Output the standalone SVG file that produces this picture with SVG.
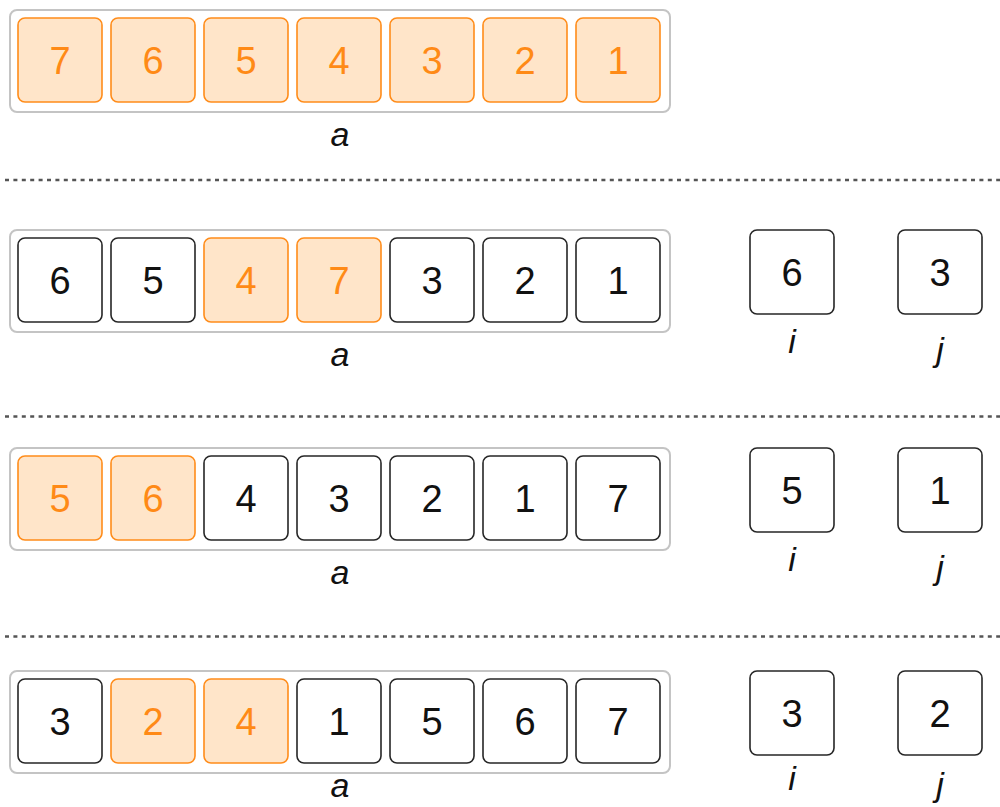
<svg xmlns="http://www.w3.org/2000/svg" width="1000" height="807" viewBox="0 0 1000 807">
<style>
.bg{fill:#ffffff}
.arr{fill:#ffffff;stroke:#c4c4c4;stroke-width:2}
.c{fill:#ffffff;stroke:#262626;stroke-width:1.6}
.h{fill:#ffe5c9;stroke:#ff8c1a;stroke-width:1.6}
.t{font-family:"Liberation Sans",Arial,sans-serif;font-size:38px;text-anchor:middle;fill:#111111}
.th{fill:#ff8a16}
.lbl{font-family:"Liberation Sans",Arial,sans-serif;font-size:34px;font-style:italic;text-anchor:middle;fill:#111111}
.sep{stroke:#555555;stroke-width:2.5;stroke-dasharray:4 4.4;fill:none}
</style>
<rect class="bg" x="0" y="0" width="1000" height="807"/>
<g id="separators">
<line class="sep" x1="5" y1="180" x2="1000" y2="180"/>
<line class="sep" x1="5" y1="416.5" x2="1000" y2="416.5"/>
<line class="sep" x1="5" y1="636.5" x2="1000" y2="636.5"/>
</g>
<g id="connectors"></g>

<!-- Row 1 -->
<g id="row1-array">
<rect class="arr" x="10" y="10" width="660" height="102" rx="7"/>
<rect class="h" x="18" y="18" width="84" height="84" rx="7"/><text class="t th" x="60" y="74">7</text>
<rect class="h" x="111" y="18" width="84" height="84" rx="7"/><text class="t th" x="153" y="74">6</text>
<rect class="h" x="204" y="18" width="84" height="84" rx="7"/><text class="t th" x="246" y="74">5</text>
<rect class="h" x="297" y="18" width="84" height="84" rx="7"/><text class="t th" x="339" y="74">4</text>
<rect class="h" x="390" y="18" width="84" height="84" rx="7"/><text class="t th" x="432" y="74">3</text>
<rect class="h" x="483" y="18" width="84" height="84" rx="7"/><text class="t th" x="525" y="74">2</text>
<rect class="h" x="576" y="18" width="84" height="84" rx="7"/><text class="t th" x="618" y="74">1</text>
<text class="lbl" x="340" y="146">a</text>
</g>

<!-- Row 2 -->
<g id="row2-array">
<rect class="arr" x="10" y="230" width="660" height="102" rx="7"/>
<rect class="c" x="18" y="238" width="84" height="84" rx="7"/><text class="t" x="60" y="294">6</text>
<rect class="c" x="111" y="238" width="84" height="84" rx="7"/><text class="t" x="153" y="294">5</text>
<rect class="h" x="204" y="238" width="84" height="84" rx="7"/><text class="t th" x="246" y="294">4</text>
<rect class="h" x="297" y="238" width="84" height="84" rx="7"/><text class="t th" x="339" y="294">7</text>
<rect class="c" x="390" y="238" width="84" height="84" rx="7"/><text class="t" x="432" y="294">3</text>
<rect class="c" x="483" y="238" width="84" height="84" rx="7"/><text class="t" x="525" y="294">2</text>
<rect class="c" x="576" y="238" width="84" height="84" rx="7"/><text class="t" x="618" y="294">1</text>
<text class="lbl" x="340" y="366">a</text>
</g>
<g id="row2-i">
<rect class="c" x="750" y="230" width="84" height="84" rx="7"/><text class="t" x="792" y="286">6</text>
<text class="lbl" x="792" y="353">i</text>
</g>
<g id="row2-j">
<rect class="c" x="898" y="230" width="84" height="84" rx="7"/><text class="t" x="940" y="286">3</text>
<text class="lbl" x="940" y="361">j</text>
</g>

<!-- Row 3 -->
<g id="row3-array">
<rect class="arr" x="10" y="448" width="660" height="102" rx="7"/>
<rect class="h" x="18" y="456" width="84" height="84" rx="7"/><text class="t th" x="60" y="512">5</text>
<rect class="h" x="111" y="456" width="84" height="84" rx="7"/><text class="t th" x="153" y="512">6</text>
<rect class="c" x="204" y="456" width="84" height="84" rx="7"/><text class="t" x="246" y="512">4</text>
<rect class="c" x="297" y="456" width="84" height="84" rx="7"/><text class="t" x="339" y="512">3</text>
<rect class="c" x="390" y="456" width="84" height="84" rx="7"/><text class="t" x="432" y="512">2</text>
<rect class="c" x="483" y="456" width="84" height="84" rx="7"/><text class="t" x="525" y="512">1</text>
<rect class="c" x="576" y="456" width="84" height="84" rx="7"/><text class="t" x="618" y="512">7</text>
<text class="lbl" x="340" y="584">a</text>
</g>
<g id="row3-i">
<rect class="c" x="750" y="448" width="84" height="84" rx="7"/><text class="t" x="792" y="504">5</text>
<text class="lbl" x="792" y="571">i</text>
</g>
<g id="row3-j">
<rect class="c" x="898" y="448" width="84" height="84" rx="7"/><text class="t" x="940" y="504">1</text>
<text class="lbl" x="940" y="579">j</text>
</g>

<!-- Row 4 -->
<g id="row4-array">
<rect class="arr" x="10" y="671" width="660" height="102" rx="7"/>
<rect class="c" x="18" y="679" width="84" height="84" rx="7"/><text class="t" x="60" y="735">3</text>
<rect class="h" x="111" y="679" width="84" height="84" rx="7"/><text class="t th" x="153" y="735">2</text>
<rect class="h" x="204" y="679" width="84" height="84" rx="7"/><text class="t th" x="246" y="735">4</text>
<rect class="c" x="297" y="679" width="84" height="84" rx="7"/><text class="t" x="339" y="735">1</text>
<rect class="c" x="390" y="679" width="84" height="84" rx="7"/><text class="t" x="432" y="735">5</text>
<rect class="c" x="483" y="679" width="84" height="84" rx="7"/><text class="t" x="525" y="735">6</text>
<rect class="c" x="576" y="679" width="84" height="84" rx="7"/><text class="t" x="618" y="735">7</text>
<text class="lbl" x="340" y="797">a</text>
</g>
<g id="row4-i">
<rect class="c" x="750" y="671" width="84" height="84" rx="7"/><text class="t" x="792" y="727">3</text>
<text class="lbl" x="792" y="790">i</text>
</g>
<g id="row4-j">
<rect class="c" x="898" y="671" width="84" height="84" rx="7"/><text class="t" x="940" y="727">2</text>
<text class="lbl" x="940" y="796">j</text>
</g>
</svg>
